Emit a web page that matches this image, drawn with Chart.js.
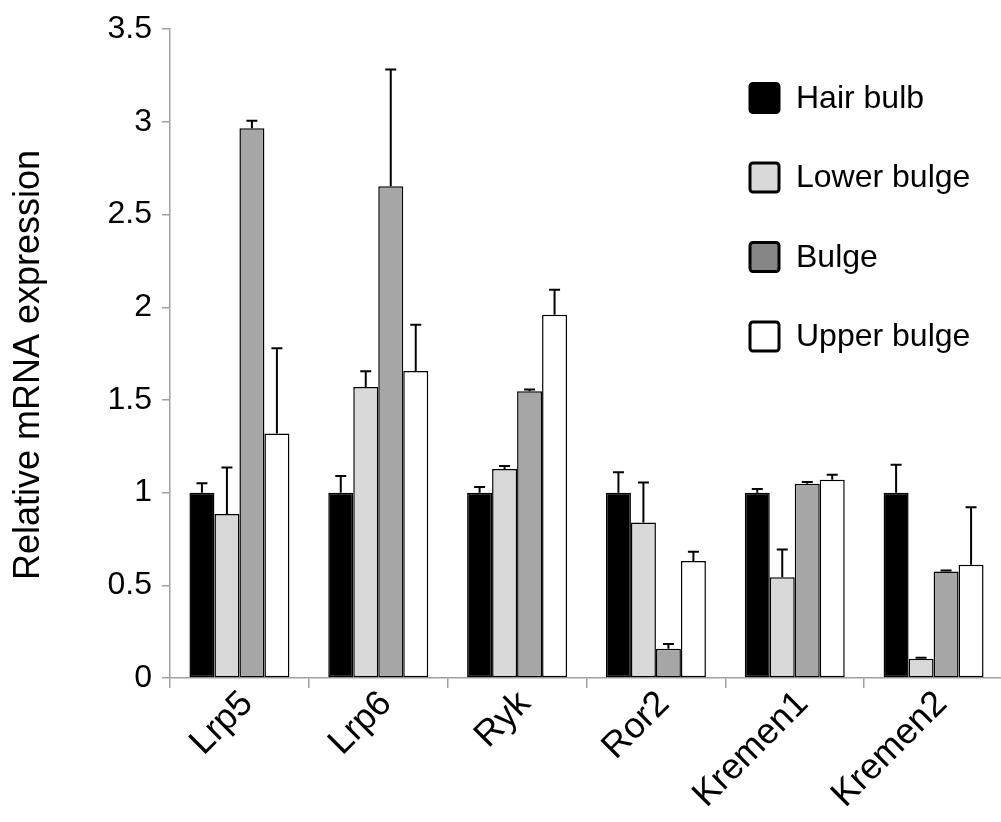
<!DOCTYPE html>
<html>
<head>
<meta charset="utf-8">
<script src="https://cdn.jsdelivr.net/npm/chart.js@4.4.1/dist/chart.umd.min.js"></script>
<style>
  html, body { margin: 0; padding: 0; background: #fff; overflow: hidden; }
  #wrap { width: 1004px; height: 822px; }
</style>
</head>
<body>
<div id="wrap"><canvas id="c" width="1004" height="822"></canvas></div>
<script>
// Genes on the x axis
const genes = ['Lrp5', 'Lrp6', 'Ryk', 'Ror2', 'Kremen1', 'Kremen2'];

// Relative mRNA expression per compartment
const hairBulb    = [1.00, 1.00, 1.00, 1.00, 1.00, 1.00];
const lowerBulge  = [0.885, 1.57, 1.127, 0.839, 0.543, 0.104];
const bulge       = [2.966, 2.653, 1.547, 0.158, 1.048, 0.575];
const upperBulge  = [1.319, 1.656, 1.959, 0.631, 1.070, 0.611];

// Upper error bars (SD)
const hairBulbErr   = [0.05, 0.09, 0.03, 0.11, 0.02, 0.15];
const lowerBulgeErr = [0.25, 0.085, 0.017, 0.215, 0.15, 0.005];
const bulgeErr      = [0.04, 0.63, 0.01, 0.025, 0.01, 0.005];
const upperBulgeErr = [0.46, 0.25, 0.135, 0.05, 0.027, 0.31];

// Y axis ticks and title
const yTicks = [0, 0.5, 1, 1.5, 2, 2.5, 3, 3.5];
const yTitle = 'Relative mRNA expression';

const FONT = "'Liberation Sans', Arial, sans-serif";

const datasets = [
  { label: 'Hair bulb',   data: hairBulb,   err: hairBulbErr,   backgroundColor: '#000000', legendFill: '#000000' },
  { label: 'Lower bulge', data: lowerBulge, err: lowerBulgeErr, backgroundColor: '#d9d9d9', legendFill: '#d9d9d9' },
  { label: 'Bulge',       data: bulge,      err: bulgeErr,      backgroundColor: '#a6a6a6', legendFill: '#868686' },
  { label: 'Upper bulge', data: upperBulge, err: upperBulgeErr, backgroundColor: '#ffffff', legendFill: '#ffffff' }
].map(d => Object.assign(d, { borderColor: '#000000', borderWidth: 1.5, borderSkipped: false }));

// Upper-only error bars with a short cap
const errorBars = {
  id: 'errorBars',
  afterDatasetsDraw(chart) {
    const ctx = chart.ctx;
    const y = chart.scales.y;
    ctx.save();
    ctx.strokeStyle = '#000';
    ctx.lineWidth = 2;
    chart.data.datasets.forEach((ds, i) => {
      const meta = chart.getDatasetMeta(i);
      meta.data.forEach((bar, j) => {
        const top = y.getPixelForValue(ds.data[j] + ds.err[j]);
        ctx.beginPath();
        ctx.moveTo(bar.x, bar.y);
        ctx.lineTo(bar.x, top);
        ctx.moveTo(bar.x - 5.5, top);
        ctx.lineTo(bar.x + 5.5, top);
        ctx.stroke();
      });
    });
    ctx.restore();
  }
};

// Legend drawn inside the plot at the upper right
const sideLegend = {
  id: 'sideLegend',
  afterDraw(chart) {
    const ctx = chart.ctx;
    ctx.save();
    ctx.font = '32px ' + FONT;
    ctx.textBaseline = 'middle';
    chart.data.datasets.forEach((ds, i) => {
      const cy = 98 + i * 79.5;
      const x = 750, s = 29;
      ctx.beginPath();
      ctx.roundRect(x, cy - s / 2, s, s, 3);
      ctx.fillStyle = ds.legendFill;
      ctx.fill();
      ctx.lineWidth = 3;
      ctx.strokeStyle = '#000';
      ctx.stroke();
      ctx.fillStyle = '#000';
      ctx.fillText(ds.label, 796, cy + 1);
    });
    ctx.restore();
  }
};

// Vertical axis title and slanted category labels
const axisText = {
  id: 'axisText',
  afterDraw(chart) {
    const ctx = chart.ctx;
    ctx.save();
    ctx.translate(29, 365);
    ctx.rotate(-Math.PI / 2);
    ctx.font = '36px ' + FONT;
    ctx.fillStyle = '#000';
    ctx.textAlign = 'center';
    ctx.textBaseline = 'middle';
    ctx.fillText(yTitle, 0, 0);
    ctx.restore();

    const xs = chart.scales.x;
    ctx.save();
    ctx.font = '36px ' + FONT;
    ctx.fillStyle = '#000';
    ctx.textAlign = 'right';
    ctx.textBaseline = 'middle';
    genes.forEach((g, i) => {
      ctx.save();
      ctx.translate(xs.getPixelForValue(i) + 8, xs.top + 20);
      ctx.rotate(-Math.PI / 4);
      ctx.fillText(g, 0, 0);
      ctx.restore();
    });
    ctx.restore();
  }
};

new Chart(document.getElementById('c'), {
  type: 'bar',
  data: { labels: genes, datasets },
  plugins: [errorBars, sideLegend, axisText],
  options: {
    responsive: false,
    animation: false,
    layout: { padding: { top: 27, right: 1, left: 0, bottom: 0 } },
    plugins: { legend: { display: false }, tooltip: { enabled: false } },
    datasets: { bar: { categoryPercentage: 0.72, barPercentage: 1.0 } },
    scales: {
      x: {
        grid: { display: true, drawOnChartArea: false, drawTicks: true, tickLength: 10, color: '#a0a0a0', lineWidth: 1.5 },
        border: { display: true, color: '#a0a0a0', width: 1.5 },
        ticks: { display: false },
        afterFit(s) { s.height = 144; }
      },
      y: {
        min: 0, max: 3.5,
        afterBuildTicks(s) { s.ticks = yTicks.map(v => ({ value: v })); },
        grid: { display: true, drawOnChartArea: false, drawTicks: true, tickLength: 8, color: '#a0a0a0', lineWidth: 1.5 },
        border: { display: true, color: '#a0a0a0', width: 1.5 },
        ticks: { color: '#000', font: { family: FONT, size: 32 }, padding: 10, callback: v => String(v) },
        afterFit(s) { s.width = 170; }
      }
    }
  }
});
</script>
</body>
</html>
